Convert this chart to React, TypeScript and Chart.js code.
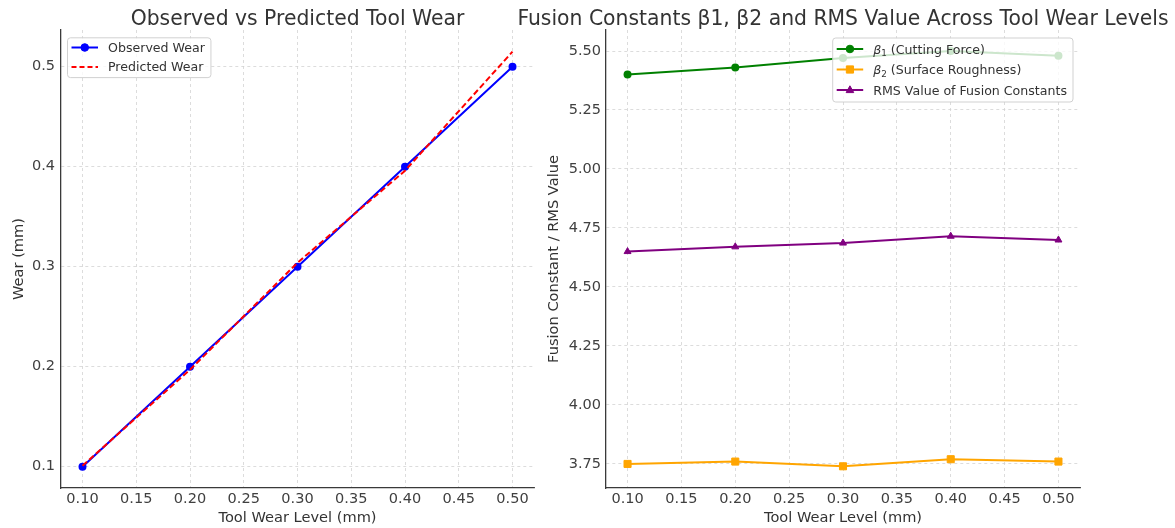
import React, { useEffect, useRef } from "react";
import { Chart, registerables } from "chart.js";

Chart.register(...registerables);

// ---------------- DATA ----------------
const toolWearLevels = [0.1, 0.2, 0.3, 0.4, 0.5];
const observedWear = [0.1, 0.2, 0.3, 0.4, 0.5];
const predictedWear = [0.101, 0.197, 0.304, 0.396, 0.515];

const beta1Values = [5.4, 5.43, 5.47, 5.5, 5.48];
const beta2Values = [3.75, 3.76, 3.74, 3.77, 3.76];
const rmsValues = [4.65, 4.67, 4.686, 4.715, 4.699];

const xTickValues = [0.1, 0.15, 0.2, 0.25, 0.3, 0.35, 0.4, 0.45, 0.5];
const leftYTickValues = [0.1, 0.2, 0.3, 0.4, 0.5];
const rightYTickValues = [3.75, 4.0, 4.25, 4.5, 4.75, 5.0, 5.25, 5.5];

const xRange = [0.08, 0.52];
const leftYRange = [0.0787, 0.5367];
const rightYRange = [3.648, 5.589];

const leftTitle = "Observed vs Predicted Tool Wear";
const rightTitle = "Fusion Constants β1, β2 and RMS Value Across Tool Wear Levels";
const xAxisTitle = "Tool Wear Level (mm)";
const leftYAxisTitle = "Wear (mm)";
const rightYAxisTitle = "Fusion Constant / RMS Value";

// ---------------- STYLE ----------------
const FONT = '"DejaVu Sans", "Liberation Sans", sans-serif';
const TEXT = "#333333";
const TICK_TEXT = "#404040";
const GRID = "#d4d4d4";
const SPINE = "#3a3a3a";

type Seg = { text: string; italic?: boolean; sub?: boolean };
type LegendItem = {
  segs: Seg[];
  color: string;
  dash?: number[];
  marker?: "circle" | "square" | "triangle" | null;
};
type LegendCfg = {
  anchor: "left" | "right";
  dx: number;
  dy: number;
  firstRow: number;
  rowH: number;
  items: LegendItem[];
};

const LEG_FS = 12.6;

function segFont(s: Seg) {
  const size = s.sub ? LEG_FS * 0.7 : LEG_FS;
  return `${s.italic ? "italic " : ""}${size}px ${FONT}`;
}

function measureSegs(ctx: CanvasRenderingContext2D, segs: Seg[]) {
  let w = 0;
  for (const s of segs) {
    ctx.font = segFont(s);
    w += ctx.measureText(s.text).width;
  }
  return w;
}

function drawMarker(ctx: CanvasRenderingContext2D, kind: string, x: number, y: number, color: string) {
  ctx.save();
  ctx.setLineDash([]);
  ctx.fillStyle = color;
  ctx.strokeStyle = color;
  ctx.lineWidth = 1;
  ctx.beginPath();
  if (kind === "circle") {
    ctx.arc(x, y, 3.8, 0, Math.PI * 2);
  } else if (kind === "square") {
    ctx.rect(x - 3.6, y - 3.6, 7.2, 7.2);
  } else if (kind === "triangle") {
    ctx.moveTo(x, y - 4.2);
    ctx.lineTo(x + 3.8, y + 2.6);
    ctx.lineTo(x - 3.8, y + 2.6);
    ctx.closePath();
  }
  ctx.fill();
  ctx.stroke();
  ctx.restore();
}

function makeOverlay(title: string, legend: LegendCfg) {
  return {
    id: "overlay",
    afterDatasetsDraw(chart: any) {
      const ctx: CanvasRenderingContext2D = chart.ctx;
      const ca = chart.chartArea;
      ctx.save();
      const widths = legend.items.map((it) => measureSegs(ctx, it.segs));
      const maxW = Math.max(...widths);
      const padL = 4.5;
      const sampleLen = 26.5;
      const gap = 10;
      const padR = 5.5;
      const boxW = padL + sampleLen + gap + maxW + padR;
      const boxH = legend.firstRow * 2 + legend.rowH * (legend.items.length - 1);
      const x0 = legend.anchor === "left" ? ca.left + legend.dx : ca.right - legend.dx - boxW;
      const y0 = ca.top + legend.dy;
      ctx.beginPath();
      (ctx as any).roundRect(x0 + 0.5, y0 + 0.5, boxW, boxH, 3);
      ctx.fillStyle = "rgba(255,255,255,0.8)";
      ctx.fill();
      ctx.strokeStyle = "rgba(204,204,204,0.9)";
      ctx.lineWidth = 1;
      ctx.stroke();
      legend.items.forEach((it, i) => {
        const cy = y0 + legend.firstRow + i * legend.rowH;
        ctx.save();
        ctx.strokeStyle = it.color;
        ctx.lineWidth = 2;
        ctx.setLineDash(it.dash || []);
        ctx.beginPath();
        ctx.moveTo(x0 + padL, cy);
        ctx.lineTo(x0 + padL + sampleLen, cy);
        ctx.stroke();
        ctx.restore();
        if (it.marker) drawMarker(ctx, it.marker, x0 + padL + sampleLen / 2, cy, it.color);
        let tx = x0 + padL + sampleLen + gap;
        const base = cy + LEG_FS * 0.36;
        ctx.fillStyle = TEXT;
        ctx.textAlign = "left";
        ctx.textBaseline = "alphabetic";
        for (const s of it.segs) {
          ctx.font = segFont(s);
          ctx.fillText(s.text, tx, base + (s.sub ? LEG_FS * 0.22 : 0));
          tx += ctx.measureText(s.text).width;
        }
      });
      ctx.restore();
    },
    afterDraw(chart: any) {
      const ctx: CanvasRenderingContext2D = chart.ctx;
      const ca = chart.chartArea;
      ctx.save();
      ctx.font = `20.35px ${FONT}`;
      ctx.fillStyle = TEXT;
      ctx.textAlign = "center";
      ctx.textBaseline = "alphabetic";
      ctx.fillText(title, (ca.left + ca.right) / 2, 25);
      ctx.restore();
    },
  };
}

function xScale() {
  return {
    type: "linear",
    min: xRange[0],
    max: xRange[1],
    afterBuildTicks: (s: any) => {
      s.ticks = xTickValues.map((v) => ({ value: v }));
    },
    afterFit: (s: any) => {
      s.height = 40;
    },
    ticks: {
      color: TICK_TEXT,
      font: { family: FONT, size: 14.5 },
      padding: 3,
      maxRotation: 0,
      autoSkip: false,
      callback: (v: any) => Number(v).toFixed(2),
    },
    grid: { color: GRID, lineWidth: 0.8, drawTicks: false },
    border: { display: true, color: SPINE, width: 1.3, dash: [3, 3] },
    title: {
      display: true,
      text: xAxisTitle,
      color: TEXT,
      font: { family: FONT, size: 14.6, lineHeight: 1.2 },
      padding: { top: 0, bottom: 1 },
    },
  };
}

function yScale(range: number[], tickVals: number[], digits: number, width: number, title: string, titlePad: number, tickPad: number) {
  return {
    type: "linear",
    min: range[0],
    max: range[1],
    afterBuildTicks: (s: any) => {
      s.ticks = tickVals.map((v) => ({ value: v }));
    },
    afterFit: (s: any) => {
      s.width = width;
    },
    ticks: {
      color: TICK_TEXT,
      font: { family: FONT, size: 14.5 },
      padding: tickPad,
      autoSkip: false,
      callback: (v: any) => Number(v).toFixed(digits),
    },
    grid: { color: GRID, lineWidth: 0.8, drawTicks: false },
    border: { display: true, color: SPINE, width: 1.3, dash: [3, 3] },
    title: {
      display: true,
      text: title,
      color: TEXT,
      font: { family: FONT, size: 14.6, lineHeight: 1.2 },
      padding: { top: titlePad, bottom: 0 },
    },
  };
}

function pts(ys: number[]) {
  return toolWearLevels.map((x, i) => ({ x, y: ys[i] }));
}

function LeftChart() {
  const ref = useRef<HTMLCanvasElement | null>(null);
  useEffect(() => {
    if (!ref.current) return;
    const chart = new Chart(ref.current, {
      type: "line",
      data: {
        datasets: [
          {
            label: "Observed Wear",
            data: pts(observedWear),
            borderColor: "#0000ff",
            backgroundColor: "#0000ff",
            borderWidth: 2,
            pointRadius: 4,
            pointBorderWidth: 0,
            pointStyle: "circle",
            order: 1,
          },
          {
            label: "Predicted Wear",
            data: pts(predictedWear),
            borderColor: "#ff0000",
            backgroundColor: "#ff0000",
            borderWidth: 2,
            borderDash: [6, 3],
            pointRadius: 0,
            order: 0,
          },
        ],
      } as any,
      options: {
        responsive: false,
        animation: false,
        events: [],
        layout: { padding: { top: 30, left: 0, right: 11, bottom: 0 } },
        plugins: { legend: { display: false }, title: { display: false }, tooltip: { enabled: false } },
        scales: {
          x: xScale(),
          y: yScale(leftYRange, leftYTickValues, 1, 61, leftYAxisTitle, 10.3, 6),
        } as any,
      },
      plugins: [
        makeOverlay(leftTitle, {
          anchor: "left",
          dx: 6,
          dy: 7.3,
          firstRow: 10.2,
          rowH: 19.4,
          items: [
            { segs: [{ text: "Observed Wear" }], color: "#0000ff", marker: "circle" },
            { segs: [{ text: "Predicted Wear" }], color: "#ff0000", dash: [5, 3], marker: null },
          ],
        }),
      ],
    });
    return () => chart.destroy();
  }, []);
  return (
    <canvas
      ref={ref}
      width={545}
      height={528}
      style={{ position: "absolute", left: 0, top: 0, width: 545, height: 528 }}
    />
  );
}

function RightChart() {
  const ref = useRef<HTMLCanvasElement | null>(null);
  useEffect(() => {
    if (!ref.current) return;
    const chart = new Chart(ref.current, {
      type: "line",
      data: {
        datasets: [
          {
            label: "β1 (Cutting Force)",
            data: pts(beta1Values),
            borderColor: "#008000",
            backgroundColor: "#008000",
            borderWidth: 2,
            pointRadius: 4,
            pointBorderWidth: 0,
            pointStyle: "circle",
            order: 2,
          },
          {
            label: "β2 (Surface Roughness)",
            data: pts(beta2Values),
            borderColor: "#ffa500",
            backgroundColor: "#ffa500",
            borderWidth: 2,
            pointRadius: 5,
            pointBorderWidth: 1,
            pointStyle: "rect",
            order: 1,
          },
          {
            label: "RMS Value of Fusion Constants",
            data: pts(rmsValues),
            borderColor: "#800080",
            backgroundColor: "#800080",
            borderWidth: 2,
            pointRadius: 4,
            pointBorderWidth: 1,
            pointStyle: "triangle",
            order: 0,
          },
        ],
      } as any,
      options: {
        responsive: false,
        animation: false,
        events: [],
        layout: { padding: { top: 30, left: 0, right: 95, bottom: 0 } },
        plugins: { legend: { display: false }, title: { display: false }, tooltip: { enabled: false } },
        scales: {
          x: xScale(),
          y: yScale(rightYRange, rightYTickValues, 2, 101, rightYAxisTitle, 40.8, 5),
        } as any,
      },
      plugins: [
        makeOverlay(rightTitle, {
          anchor: "right",
          dx: 7.5,
          dy: 7.5,
          firstRow: 11.5,
          rowH: 20.5,
          items: [
            {
              segs: [{ text: "β", italic: true }, { text: "1", sub: true }, { text: " (Cutting Force)" }],
              color: "#008000",
              marker: "circle",
            },
            {
              segs: [{ text: "β", italic: true }, { text: "2", sub: true }, { text: " (Surface Roughness)" }],
              color: "#ffa500",
              marker: "square",
            },
            { segs: [{ text: "RMS Value of Fusion Constants" }], color: "#800080", marker: "triangle" },
          ],
        }),
      ],
    });
    return () => chart.destroy();
  }, []);
  return (
    <canvas
      ref={ref}
      width={670}
      height={528}
      style={{ position: "absolute", left: 505, top: 0, width: 670, height: 528 }}
    />
  );
}

export default function App() {
  return (
    <div
      style={{
        position: "fixed",
        left: 0,
        top: 0,
        width: 1175,
        height: 528,
        background: "#ffffff",
        overflow: "hidden",
      }}
    >
      <LeftChart />
      <RightChart />
    </div>
  );
}
